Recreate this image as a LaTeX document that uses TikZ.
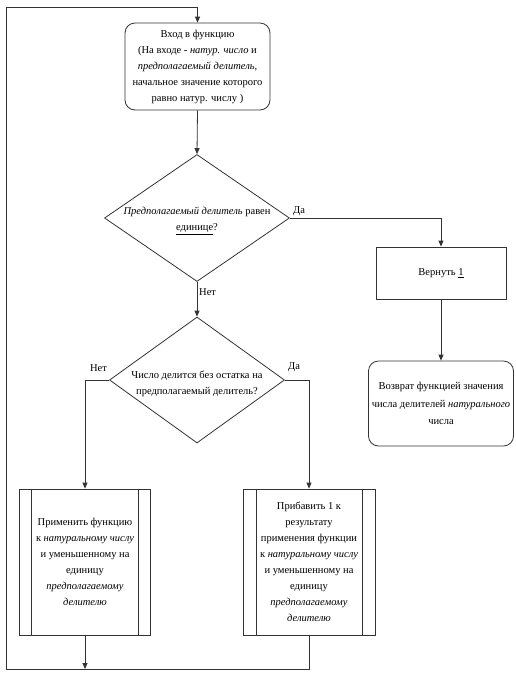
\documentclass[tikz,border=0pt]{standalone}
\usepackage{fontspec}
\setmainfont{Liberation Serif}
\usetikzlibrary{shapes.geometric,arrows.meta,calc}
\begin{document}
\begin{tikzpicture}[x=1pt,y=-1pt,
  line/.style={draw=black!80, line width=0.8pt},
  arr/.style={line, -{Triangle[length=6pt,width=5pt]}},
  txt/.style={font=\fontsize{10.5}{16}\selectfont, align=center, text=black},
  rbox/.style={line, rounded corners=10pt, txt, inner sep=0pt},
  sbox/.style={line, txt, inner sep=0pt},
  dia/.style={line, diamond, inner sep=0pt},
  lbl/.style={font=\fontsize{10.5}{12}\selectfont, inner sep=1pt, text=black}
]
\useasboundingbox (0,0) rectangle (515,678);

\node[rbox, minimum width=145pt, minimum height=87pt] (start) at (197.5,66.5)
 {Вход в функцию\\(На входе - \textit{натур. число} и\\\textit{предполагаемый делитель},\\начальное значение которого\\равно натур. числу )};

\node[dia, minimum width=185pt, minimum height=127pt,
  label={[txt, yshift=-3pt]center:\textit{Предполагаемый делитель} равен\\\underline{единице}?}] (d1) at (197,218) {};

\node[sbox, minimum width=130pt, minimum height=52pt] (rt) at (441,273) {Вернуть \underline{1}};

\node[rbox, minimum width=145pt, minimum height=85pt, font=\fontsize{10.5}{17.5}\selectfont] (end) at (441,403.5)
 {Возврат функцией значения\\числа делителей \textit{натурального}\\числа};

\node[dia, minimum width=175pt, minimum height=126pt,
  label={[txt, yshift=-4pt]center:Число делится без остатка на\\предполагаемый делитель?}] (d2) at (197,380) {};

\node[sbox, minimum width=131pt, minimum height=146pt] (lb) at (85,562)
 {Применить функцию\\к \textit{натуральному числу}\\и уменьшенному на\\единицу\\\textit{предполагаемому}\\\textit{делителю}};
\draw[line] ([xshift=12.5pt]lb.north west) -- ([xshift=12.5pt]lb.south west);
\draw[line] ([xshift=-13pt]lb.north east) -- ([xshift=-13pt]lb.south east);

\node[sbox, minimum width=132pt, minimum height=146pt] (rb) at (309,562)
 {Прибавить 1 к\\результату\\применения функции\\к \textit{натуральному числу}\\и уменьшенному на\\единицу\\\textit{предполагаемому}\\\textit{делителю}};
\draw[line] ([xshift=14pt]rb.north west) -- ([xshift=14pt]rb.south west);
\draw[line] ([xshift=-13pt]rb.north east) -- ([xshift=-13pt]rb.south east);

\coordinate (loopbl) at (6,669);
\coordinate (looptl) at (6,7);

\draw[arr] (start.south) -- (d1.north);
\draw[arr] (d1.east) -| (rt.north);
\node[lbl, anchor=south west] (da1) at ([xshift=2pt,yshift=1pt]d1.east) {Да};
\draw[arr] (d1.south) -- (d2.north);
\node[lbl, anchor=north west] (net1) at ([xshift=1pt,yshift=-6pt]d1.south) {Нет};
\draw[arr] (rt.south) -- (end.north);
\draw[arr] (d2.west) -| (lb.north);
\node[lbl, anchor=south east] (net2) at ([xshift=-1pt,yshift=7pt]d2.west) {Нет};
\draw[arr] (d2.east) -| (rb.north);
\node[lbl, anchor=south west] (da2) at ([xshift=2pt,yshift=7pt]d2.east) {Да};

\draw[arr] (lb.south) -- (lb.south |- loopbl);
\draw[arr] (rb.south) |- (loopbl) -- (looptl) -| (start.north);
\end{tikzpicture}
\end{document}
